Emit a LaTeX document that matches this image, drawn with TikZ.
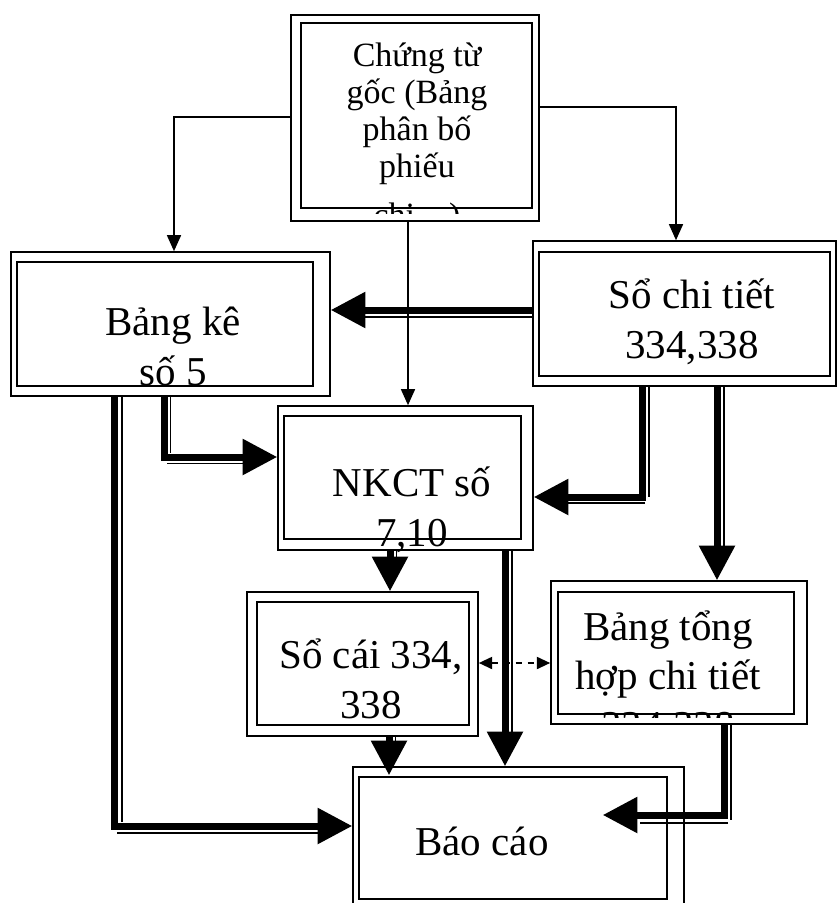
\documentclass[tikz,border=0pt]{standalone}
\usepackage{fontspec}
\setmainfont{Liberation Serif}
\usetikzlibrary{arrows.meta,fit}
\tikzset{
  obox/.style={draw, line width=1.2pt, inner sep=0pt},
  ibox/.style={draw, line width=1.6pt, inner sep=0pt},
  bigtxt/.style={font=\fontsize{30.75}{37}\selectfont, align=center, anchor=base, inner sep=0pt},
  smalltxt/.style={font=\fontsize{25.5}{27.75}\selectfont, align=center, anchor=base, inner sep=0pt},
  thk/.style={line width=5.25pt, line join=miter, -{Triangle[length=26pt,width=26pt]}},
  thn/.style={line width=1.1pt},
  conn/.style={line width=1.1pt, -{Triangle[length=12pt,width=10.5pt]}},
  dconn/.style={line width=1.5pt, dash pattern=on 4.5pt off 4.5pt, {Triangle[length=10pt,width=9pt]}-{Triangle[length=10pt,width=9pt]}}
}
\begin{document}
\begin{tikzpicture}[x=0.75pt,y=-0.75pt]
\useasboundingbox (0,0) rectangle (838,903);
% boxes
\node[obox, fit={(291,15) (539,221)}] (ct) {};
\node[ibox, fit={(301,23) (532,208)}] (cti) {};
\node[obox, fit={(11,252) (330,396)}] (bk) {};
\node[ibox, fit={(17,262) (313,386)}] (bki) {};
\node[obox, fit={(533,241) (836,386)}] (sct) {};
\node[ibox, fit={(539,252) (830,376)}] (scti) {};
\node[obox, fit={(278,406) (533,550)}] (nk) {};
\node[ibox, fit={(284,416) (521,539)}] (nki) {};
\node[obox, fit={(247,592) (478,736)}] (sc) {};
\node[ibox, fit={(257,602) (469,725)}] (sci) {};
\node[obox, fit={(551,581) (807,724)}] (bth) {};
\node[ibox, fit={(558,592) (794,714)}] (bthi) {};
\node[obox, fit={(353,767) (684,915)}] (bc) {};
\node[ibox, fit={(359,777) (667,899)}] (bci) {};
% thin connectors
\draw[conn] (ct.west |- 0,117) -| (bk.north -| 174,0);
\draw[conn] (ct.east |- 0,107) -| (sct.north -| 676,0);
\draw[conn] (ct.south -| 408,0) -- (nk.north -| 408,0);
% double connectors
\draw[thk] (sct.west |- 0,310) -- (bk.east |- 0,310);
\draw[thn] (sct.west |- 0,317) -- (360,317);
\draw[thk] (bk.south -| 164,0) |- (nk.west |- 0,457);
\draw[thn] (bk.south -| 170.5,0) -- (170.5,453);
\draw[thn] (167,463.5) -- (250,463.5);
\draw[thk] (bk.south -| 114.5,0) |- (bc.west |- 0,826);
\draw[thn] (bk.south -| 122,0) -- (122,822);
\draw[thn] (117,833) -- (325,833);
\draw[thk] (sct.south -| 642,0) |- (nk.east |- 0,497);
\draw[thn] (sct.south -| 649,0) -- (649,497);
\draw[thn] (645,503) -- (555,503);
\draw[thk] (sct.south -| 717,0) -- (bth.north -| 717,0);
\draw[thn] (sct.south -| 724,0) -- (724,550);
\draw[thk] (nk.south -| 390,0) -- (sc.north -| 390,0);
\draw[thn] (nk.south -| 396.5,0) -- (396.5,557);
\draw[thk] (nk.south -| 505,0) -- (bc.north -| 505,0);
\draw[thn] (nk.south -| 512,0) -- (512,735);
\draw[thk] (sc.south -| 389,0) -- ([yshift=-6.75pt]bc.north -| 389,0);
\draw[thn] (sc.south -| 395.5,0) -- (395.5,743);
\draw[thk] (bth.south -| 724.5,0) |- ([xshift=-61.5pt]bc.east |- 0,815);
\draw[thn] (bth.south -| 731,0) -- (731,820);
\draw[thn] (728,823) -- (640,823);
\draw[dconn] (sc.east |- 0,663) -- (bth.west |- 0,663);
% texts (anchor base = last line baseline)
\begin{scope}
  \clip (301,23) rectangle (532,213);
  \node[smalltxt] (ctt) at (417,226) {Chứng từ\\gốc (Bảng\\phân bố\\phiếu\\[9pt]chi…)};
\end{scope}
\node[bigtxt] (bkt) at (173,385) {Bảng kê\\số 5};
\node[bigtxt] (sctt) at (692,358) {Sổ chi tiết\\334,338};
\node[bigtxt] (nkt) at (412,546) {NKCT số\\7,10};
\node[bigtxt] (sct2) at (371,718) {Sổ cái 334,\\338};
\begin{scope}
  \clip (558,592) rectangle (794,717);
  \node[bigtxt] (btht) at (668,739) {Bảng tổng\\hợp chi tiết\\334,338};
\end{scope}
\node[bigtxt] (bct) at (482,855) {Báo cáo};
\end{tikzpicture}
\end{document}
